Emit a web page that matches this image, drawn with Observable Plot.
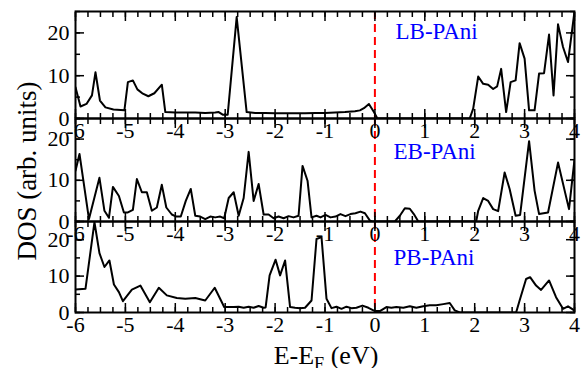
<!DOCTYPE html>
<html><head><meta charset="utf-8">
<script src="https://cdn.jsdelivr.net/npm/d3@7"></script>
<script src="https://cdn.jsdelivr.net/npm/@observablehq/plot@0.6"></script>
<style>
body{margin:0;background:#fff;}
#wrap{position:relative;width:585px;height:368px;overflow:hidden;font-family:"Liberation Serif","Times New Roman",serif;color:#000;}
#wrap svg{position:absolute;left:0;top:0;overflow:visible;background:transparent !important;font-family:"Liberation Serif","Times New Roman",serif !important;}
#wrap svg text{font-family:"Liberation Serif","Times New Roman",serif !important;font-variant:normal !important;}
#ylab{position:absolute;left:27px;top:171px;transform:translate(-50%,-50%) rotate(-90deg);white-space:nowrap;font-size:27px;line-height:1;}
#xlab{position:absolute;left:326px;top:343px;transform:translateX(-50%);white-space:nowrap;font-size:26px;line-height:1;}
#xlab sub{font-size:0.7em;vertical-align:baseline;position:relative;top:0.35em;}
</style></head><body>
<div id="wrap"></div>
<script>
// tick values / labels
const xTicks = [-6,-5,-4,-3,-2,-1,0,1,2,3,4];
const yTicks = [0,10,20];
const yMinor = [0,5,10,15,20,25];
const xMinor = d3.range(-6, 4.001, 0.25);
const panelNames = ["LB-PAni","EB-PAni","PB-PAni"];

// LB-PAni
const lbE = [-6.0,-5.9,-5.78,-5.67,-5.6,-5.51,-5.4,-5.24,-5.02,-4.95,-4.85,-4.76,-4.65,-4.54,-4.42,-4.27,-4.2,-4.0,-3.8,-3.6,-3.4,-3.2,-3.13,-3.05,-2.95,-2.77,-2.57,-2.4,-2.2,-2.0,-1.8,-1.6,-1.4,-1.2,-1.0,-0.8,-0.6,-0.4,-0.3,-0.22,-0.12,-0.02,0.05,0.5,1.0,1.5,1.9,1.97,2.07,2.17,2.27,2.37,2.45,2.53,2.63,2.72,2.82,2.9,3.0,3.09,3.2,3.29,3.39,3.49,3.58,3.67,3.77,3.87,4.0];
const lbV = [7.3,2.8,3.4,5.4,10.8,4.2,2.6,2.1,1.9,8.5,8.9,6.8,5.8,5.2,5.9,7.9,1.5,1.4,1.4,1.4,1.3,1.4,1.5,0.9,0.9,23.7,1.5,1.3,1.3,1.2,1.2,1.2,1.2,1.3,1.3,1.4,1.5,1.7,1.9,2.4,3.4,1.5,0,0,0,0,0,2.3,9.8,8.1,7.9,6.9,7.5,11.6,1.5,8.5,8.9,17.6,14,1.9,1.9,10.5,10.6,19.6,5.4,22,16.7,13.2,25];

// EB-PAni
const ebE = [-6.0,-5.92,-5.73,-5.52,-5.42,-5.33,-5.25,-5.13,-5.03,-4.95,-4.85,-4.77,-4.67,-4.57,-4.47,-4.37,-4.27,-4.18,-4.07,-3.98,-3.89,-3.79,-3.69,-3.6,-3.5,-3.4,-3.3,-3.2,-3.1,-3.02,-2.93,-2.83,-2.73,-2.63,-2.53,-2.43,-2.33,-2.23,-2.13,-2.03,-1.93,-1.83,-1.73,-1.63,-1.53,-1.45,-1.35,-1.27,-1.17,-1.09,-0.99,-0.89,-0.79,-0.69,-0.59,-0.49,-0.39,-0.29,-0.2,-0.1,-0.05,0.4,0.5,0.6,0.7,0.78,0.87,2.03,2.07,2.17,2.27,2.37,2.47,2.6,2.7,2.82,2.91,3.09,3.2,3.29,3.47,3.67,3.89,4.0];
const ebV = [12.3,16.4,0.6,10.6,2.6,0.9,8.4,6.2,2.2,2.2,2.8,10.3,7.1,7.1,2.6,3.4,8.9,3.4,1.7,1.2,1.2,5.0,7.9,1.4,1.2,0.6,1.2,1.0,1.2,0.8,5.7,7.1,1.4,5.7,16.9,5.0,9.1,1.7,1.7,0.8,1.2,0.8,1.3,1.0,1.4,13.5,9.9,1.0,1.4,1.0,1.6,1.0,1.2,1.8,1.3,1.8,2.0,2.4,2.0,0.2,0,0,1.4,3.2,3.1,1.8,0,0,2.6,5.7,5.0,3.0,2.5,11.9,7.9,1.4,1.6,19.5,7.5,1.8,2.2,14.3,3.0,15];

// PB-PAni
const pbE = [-6.0,-5.8,-5.62,-5.52,-5.42,-5.32,-5.23,-5.13,-5.05,-4.87,-4.7,-4.51,-4.33,-4.17,-3.97,-3.8,-3.6,-3.4,-3.21,-3.02,-2.83,-2.73,-2.63,-2.53,-2.43,-2.33,-2.23,-2.19,-2.11,-1.99,-1.9,-1.8,-1.7,-1.6,-1.5,-1.4,-1.27,-1.17,-1.07,-0.97,-0.87,-0.77,-0.67,-0.57,-0.47,-0.37,-0.25,-0.13,0.0,0.1,0.23,0.33,0.43,0.57,0.7,0.83,0.97,1.1,1.23,1.37,1.5,1.6,1.7,2.83,2.9,3.03,3.11,3.23,3.33,3.49,3.63,3.77,3.87,3.95,4.0];
const pbV = [6.3,6.5,24.8,16.3,12.5,14.3,7.7,5.6,3.1,6.3,7.4,2.8,6.8,4.7,4.0,3.8,4.0,3.3,6.8,1.5,1.5,1.6,1.3,1.6,1.3,1.8,1.3,1.4,10.2,14.5,10.2,14.3,1.5,1.3,1.2,1.3,3.3,20.2,20.7,3.8,1.2,1.6,1.0,1.6,1.2,1.3,1.9,1.3,0.4,0.4,1.5,1.3,1.5,1.3,1.7,1.3,1.7,2.0,2.0,2.3,2.6,0.6,0,0,3.3,9.2,9.7,7.4,6.2,8.8,4.2,1.0,1.7,1.0,0.5];

const W = 585, H = 368;
const none = () => "";
const serif = "Liberation Serif";

function panel(E, V, name, top, bottom, ldx, ldy) {
  const data = E.map((e, i) => ({e, v: V[i]}));
  const tk = {stroke: "black", strokeWidth: 1.5, tickFormat: none, label: null};
  return Plot.plot({
    width: W, height: H,
    marginLeft: 75, marginRight: 11, marginTop: top, marginBottom: H - bottom,
    x: {domain: [-6, 4]},
    y: {domain: [0, 25]},
    style: {background: "transparent", fontFamily: serif, fontSize: "22px", color: "black", overflow: "visible"},
    marks: [
      Plot.line(data, {x: "e", y: "v", stroke: "black", strokeWidth: 2, clip: true}),
      Plot.ruleX([0], {stroke: "#ff0000", strokeWidth: 2, strokeDasharray: "8,5"}),
      Plot.axisX(xTicks, {anchor: "bottom", tickSize: -9, ...tk}),
      Plot.axisX(xTicks, {anchor: "top", tickSize: -9, ...tk}),
      Plot.axisX(xMinor, {anchor: "bottom", tickSize: -5, ...tk}),
      Plot.axisX(xMinor, {anchor: "top", tickSize: -5, ...tk}),
      Plot.axisY(yTicks, {anchor: "left", tickSize: -9, ...tk}),
      Plot.axisY(yTicks, {anchor: "right", tickSize: -9, ...tk}),
      Plot.axisY(yMinor, {anchor: "left", tickSize: -5, ...tk}),
      Plot.axisY(yMinor, {anchor: "right", tickSize: -5, ...tk}),
      Plot.axisX(xTicks, {anchor: "bottom", tickSize: 0, tickPadding: 4, tickFormat: d => String(d), label: null, fontSize: 22, fill: "black"}),
      Plot.axisY(yTicks, {anchor: "left", tickSize: 0, tickPadding: 6, tickFormat: d => String(d), label: null, fontSize: 22, fill: "black"}),
      Plot.frame({stroke: "black", strokeWidth: 2}),
      Plot.text([name], {text: d => d, frameAnchor: "top-left", dx: ldx, dy: ldy, fill: "#0000ff", fontSize: 23, lineAnchor: "top", textAnchor: "start"})
    ]
  });
}

const wrap = document.getElementById("wrap");
wrap.appendChild(panel(pbE, pbV, panelNames[2], 221, 312, 318, 27));
wrap.appendChild(panel(ebE, ebV, panelNames[1], 118, 221, 318, 24));
wrap.appendChild(panel(lbE, lbV, panelNames[0], 11, 118, 320, 11));

const yl = document.createElement("div");
yl.id = "ylab"; yl.textContent = "DOS (arb. units)";
wrap.appendChild(yl);
const xl = document.createElement("div");
xl.id = "xlab"; xl.innerHTML = "E-E<sub>F</sub> (eV)";
wrap.appendChild(xl);
</script>
</body></html>
